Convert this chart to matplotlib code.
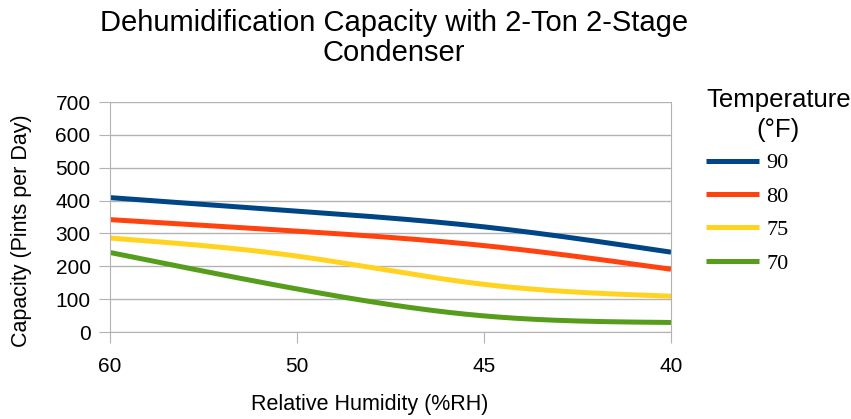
import numpy as np
import matplotlib
matplotlib.use('Agg')
import matplotlib.pyplot as plt

plt.rcParams['font.family'] = ['Liberation Sans', 'DejaVu Sans']

# categories on the x axis (relative humidity, %RH)
rh = ['60', '50', '45', '40']
temps = ['90', '80', '75', '70']
cap_90 = [409, 368, 320, 243]
cap_80 = [342, 307, 263, 191]
cap_75 = [286, 231, 145, 109]
cap_70 = [242, 131, 49, 29]
colors = ['#004586', '#ff420e', '#ffd320', '#579d1c']


def spline(y, n=200):  # natural cubic spline, like the office chart smoothing
    y = np.asarray(y, float)
    k = len(y)
    x = np.arange(k, dtype=float)
    A = np.zeros((k, k))
    r = np.zeros(k)
    A[0, 0] = A[-1, -1] = 1
    for i in range(1, k - 1):
        A[i, i - 1], A[i, i], A[i, i + 1] = 1, 4, 1
        r[i] = 6 * (y[i + 1] - 2 * y[i] + y[i - 1])
    m = np.linalg.solve(A, r)
    xs = np.linspace(0, k - 1, n)
    ys = np.empty(n)
    for j, t in enumerate(xs):
        i = min(int(t), k - 2)
        a = t - i
        b = 1 - a
        ys[j] = (b * y[i] + a * y[i + 1]
                 + ((b ** 3 - b) * m[i] + (a ** 3 - a) * m[i + 1]) / 6)
    return xs, ys


fig = plt.figure(figsize=(8.51, 4.19), dpi=100)
ax = fig.add_axes([110 / 851, 1 - 332 / 419, 561 / 851, 230 / 419])

for lab, vals, c in zip(temps, [cap_90, cap_80, cap_75, cap_70], colors):
    xs, ys = spline(vals)
    ax.plot(xs, ys, color=c, lw=3.6, label=lab, solid_capstyle='butt')

ax.set_xlim(0, len(rh) - 1)
ax.set_ylim(0, 700)
ax.set_yticks(range(0, 701, 100))
ax.set_xticks(range(len(rh)))
ax.set_xticklabels(rh)
ax.grid(axis='y', color='#b3b3b3', lw=1)
ax.set_axisbelow(True)
for s in ['left', 'right', 'bottom']:
    ax.spines[s].set_color('#b3b3b3')
ax.spines['top'].set_visible(False)
ax.tick_params(colors='#b3b3b3', labelcolor='black', labelsize=15, length=8)
ax.tick_params(axis='x', pad=10)
ax.tick_params(axis='y', pad=6)

fig.text(394 / 851, 1 - 38 / 419, 'Dehumidification Capacity with 2-Ton 2-Stage\nCondenser',
         ha='center', va='center', fontsize=21, linespacing=1.05)
fig.text(22 / 851, 1 - 231 / 419, 'Capacity (Pints per Day)', rotation=90,
         ha='center', va='center', fontsize=15.5)
fig.text(370 / 851, 1 - 404 / 419, 'Relative Humidity (%RH)',
         ha='center', va='center', fontsize=15.5)

leg = ax.legend(loc='upper left', bbox_to_anchor=(706 / 851, 1 - 88 / 419),
                bbox_transform=fig.transFigure, frameon=False, borderpad=0,
                borderaxespad=0, title='Temperature\n(°F)',
                prop={'family': 'Liberation Serif', 'size': 16},
                title_fontproperties={'family': 'Liberation Sans', 'size': 18.5},
                handlelength=2.4, handletextpad=0.3, labelspacing=0.58)
leg.get_title().set_multialignment('center')
leg.get_title().set_linespacing(1.3)
leg._legend_box.align = 'left'
leg._legend_box.sep = 8

fig.savefig('out.png', dpi=100)
